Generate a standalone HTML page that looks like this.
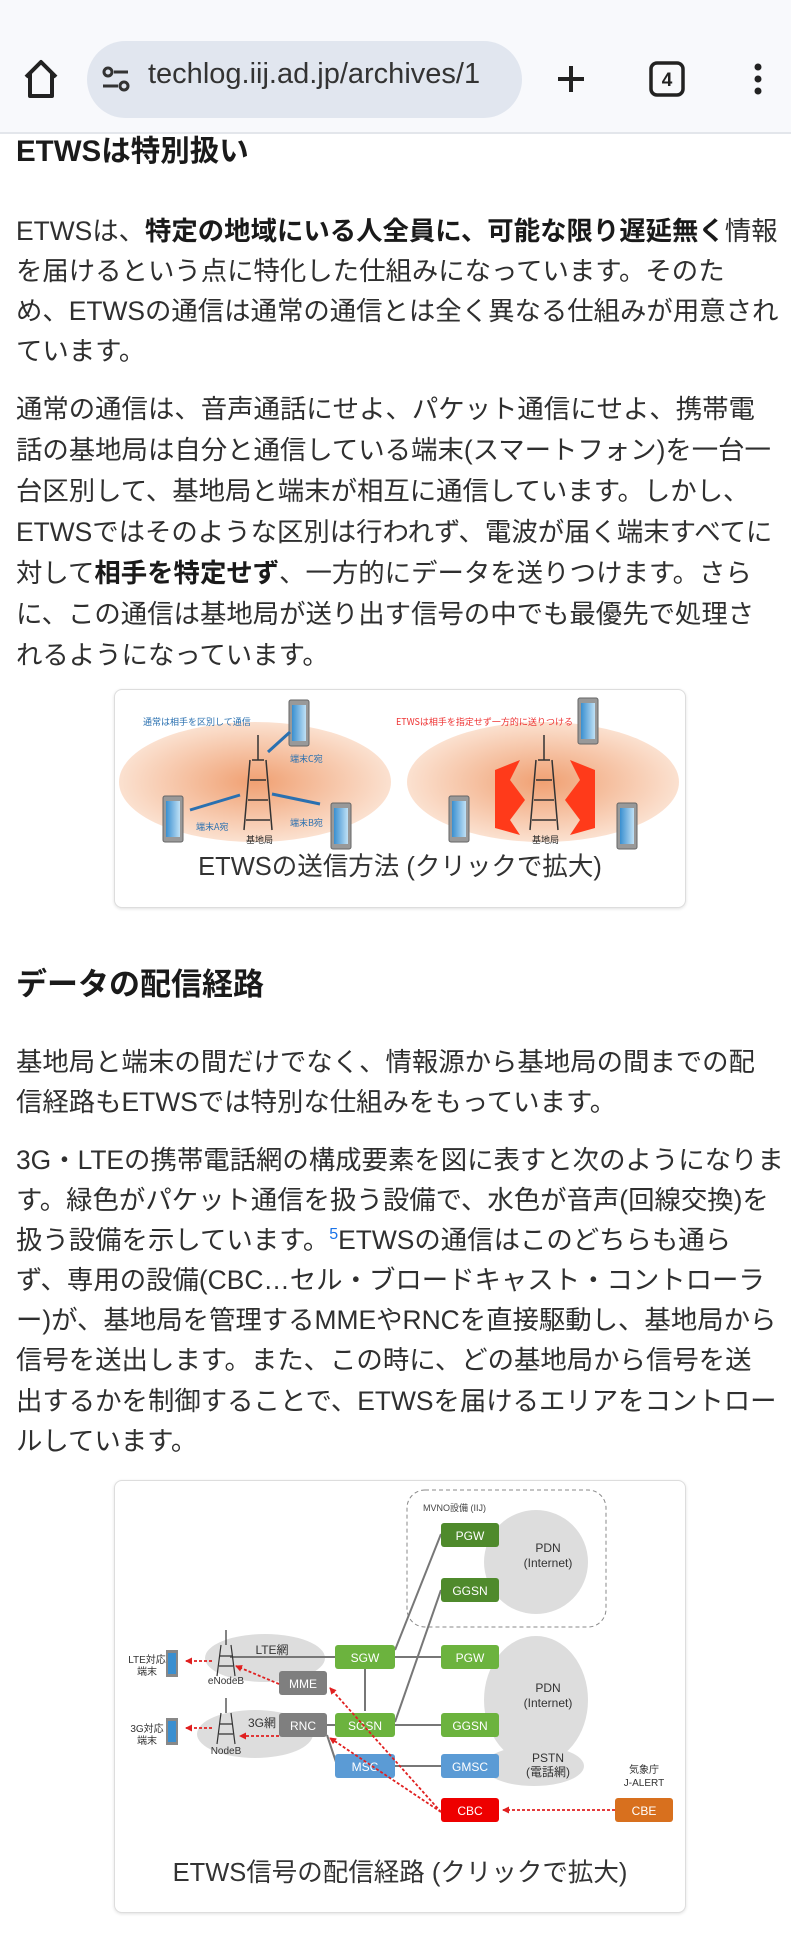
<!DOCTYPE html>
<html><head><meta charset="utf-8">
<style>
*{margin:0;padding:0;box-sizing:border-box}
html,body{width:791px;height:1947px;background:#fff;overflow:hidden;position:relative;font-family:"Liberation Sans","Noto Sans CJK JP",sans-serif;color:#222}
.l{position:absolute;left:16px;font-size:26.4px;line-height:40px;white-space:nowrap;color:#2f2f2f}
.l b{color:#1a1a1a}
.h{position:absolute;left:16px;font-weight:bold;white-space:nowrap;color:#1a1a1a}
.card{position:absolute;left:114px;width:572px;border:1px solid #ddd;border-radius:8px;box-shadow:0 1px 3px rgba(0,0,0,.12);background:#fff}
.cap{position:absolute;left:0;width:100%;text-align:center;font-size:25.5px;color:#333;white-space:nowrap}
sup{color:#1a73e8;font-size:16px;vertical-align:10px;line-height:0}
</style></head><body>
<div style="position:absolute;left:0;top:0;width:791px;height:134px;background:#f8f9fc;border-bottom:2px solid #e3e6eb"></div>
<div style="position:absolute;left:87px;top:41px;width:435px;height:77px;border-radius:39px;background:#e1e6ef"></div>
<div style="position:absolute;left:148px;top:58px;font-size:29px;color:#333;white-space:nowrap">techlog.iij.ad.jp/archives/1</div>
<svg style="position:absolute;left:0;top:0" width="791" height="134">
 <path d="M26 77 L41 62 L56 77 M30 73 V96 H52 V73" fill="none" stroke="#222" stroke-width="4" stroke-linejoin="round"/>
 <circle cx="108" cy="72" r="4" fill="none" stroke="#333" stroke-width="3"/><line x1="114" y1="72" x2="128" y2="72" stroke="#333" stroke-width="3"/>
 <circle cx="124" cy="86" r="4" fill="none" stroke="#333" stroke-width="3"/><line x1="103" y1="86" x2="118" y2="86" stroke="#333" stroke-width="3"/>
 <line x1="571" y1="66" x2="571" y2="92" stroke="#222" stroke-width="4"/><line x1="558" y1="79" x2="584" y2="79" stroke="#222" stroke-width="4"/>
 <rect x="651" y="63" width="32" height="32" rx="6" fill="none" stroke="#222" stroke-width="3.5"/>
 <text x="667" y="86" font-size="19" text-anchor="middle" font-family="Liberation Sans" font-weight="bold" fill="#222">4</text>
 <circle cx="758" cy="67" r="3.5" fill="#222"/><circle cx="758" cy="79" r="3.5" fill="#222"/><circle cx="758" cy="91" r="3.5" fill="#222"/>
</svg>

<div class="h" style="top:132px;font-size:29.5px;line-height:40px">ETWSは特別扱い</div>

<div class="l" style="top:211px">ETWSは、<b>特定の地域にいる人全員に、可能な限り遅延無く</b>情報</div>
<div class="l" style="top:251px">を届けるという点に特化した仕組みになっています。そのた</div>
<div class="l" style="top:291px">め、ETWSの通信は通常の通信とは全く異なる仕組みが用意され</div>
<div class="l" style="top:331px">ています。</div>

<div class="l" style="top:389px">通常の通信は、音声通話にせよ、パケット通信にせよ、携帯電</div>
<div class="l" style="top:430px">話の基地局は自分と通信している端末(スマートフォン)を一台一</div>
<div class="l" style="top:471px">台区別して、基地局と端末が相互に通信しています。しかし、</div>
<div class="l" style="top:512px">ETWSではそのような区別は行われず、電波が届く端末すべてに</div>
<div class="l" style="top:553px">対して<b>相手を特定せず</b>、一方的にデータを送りつけます。さら</div>
<div class="l" style="top:594px">に、この通信は基地局が送り出す信号の中でも最優先で処理さ</div>
<div class="l" style="top:635px">れるようになっています。</div>

<div class="card" style="top:689px;height:219px">
 <div class="cap" style="top:156px">ETWSの送信方法 (クリックで拡大)</div>
</div>
<svg style="position:absolute;left:0;top:680px" width="791" height="180">
 <defs><radialGradient id="og" cx="50%" cy="50%" r="50%"><stop offset="0" stop-color="#f0a072"/><stop offset="1" stop-color="#fbe1d0"/></radialGradient>
 <linearGradient id="ph" x1="0" x2="1"><stop offset="0" stop-color="#3a8fd0"/><stop offset="1" stop-color="#bfe0f5"/></linearGradient></defs>
 <ellipse cx="255" cy="102" rx="136" ry="60" fill="url(#og)"/>
 <ellipse cx="543" cy="102" rx="136" ry="60" fill="url(#og)"/>
 <g fill="#999" stroke="#666" stroke-width="1">
  <rect x="289" y="20" width="20" height="46" rx="2"/><rect x="163" y="116" width="20" height="46" rx="2"/><rect x="331" y="123" width="20" height="46" rx="2"/>
  <rect x="578" y="18" width="20" height="46" rx="2"/><rect x="449" y="116" width="20" height="46" rx="2"/><rect x="617" y="123" width="20" height="46" rx="2"/>
 </g>
 <g fill="url(#ph)">
  <rect x="292" y="25" width="14" height="36"/><rect x="166" y="121" width="14" height="36"/><rect x="334" y="128" width="14" height="36"/>
  <rect x="581" y="23" width="14" height="36"/><rect x="452" y="121" width="14" height="36"/><rect x="620" y="128" width="14" height="36"/>
 </g>
 <g stroke="#333" stroke-width="1.5" fill="none">
  <path d="M258 55 V80 M250 80 L244 150 M266 80 L272 150 M250 100 H266 M248 120 H268 M246 140 H270 M252 80 H264"/>
  <path d="M544 55 V80 M536 80 L530 150 M552 80 L558 150 M536 100 H552 M534 120 H554 M532 140 H556 M538 80 H550"/>
 </g>
 <g stroke="#2a70b0" stroke-width="3" fill="#2a70b0">
  <line x1="240" y1="115" x2="190" y2="130"/><line x1="272" y1="114" x2="320" y2="124"/><line x1="268" y1="72" x2="290" y2="52"/>
 </g>
 <path d="M495 90 L520 80 L510 100 L525 120 L510 140 L520 155 L495 148 Z M595 90 L570 80 L580 100 L565 120 L580 140 L570 155 L595 148 Z" fill="#ff3a1a"/>
 <text x="143" y="45" font-size="9" fill="#2a70b0" font-family="Noto Sans CJK JP">通常は相手を区別して通信</text>
 <text x="396" y="45" font-size="9" fill="#e33" font-family="Noto Sans CJK JP">ETWSは相手を指定せず一方的に送りつける</text>
 <g font-size="9" fill="#2a70b0" font-family="Noto Sans CJK JP"><text x="290" y="82">端末C宛</text><text x="196" y="150">端末A宛</text><text x="290" y="146">端末B宛</text></g>
 <g font-size="9" fill="#222" font-family="Noto Sans CJK JP"><text x="246" y="163">基地局</text><text x="532" y="163">基地局</text></g>
</svg>

<div class="h" style="top:964px;font-size:31px;line-height:42px">データの配信経路</div>

<div class="l" style="top:1042px">基地局と端末の間だけでなく、情報源から基地局の間までの配</div>
<div class="l" style="top:1082px">信経路もETWSでは特別な仕組みをもっています。</div>

<div class="l" style="top:1140px">3G・LTEの携帯電話網の構成要素を図に表すと次のようになりま</div>
<div class="l" style="top:1180px">す。緑色がパケット通信を扱う設備で、水色が音声(回線交換)を</div>
<div class="l" style="top:1220px">扱う設備を示しています。<sup>5</sup>ETWSの通信はこのどちらも通ら</div>
<div class="l" style="top:1260px">ず、専用の設備(CBC…セル・ブロードキャスト・コントローラ</div>
<div class="l" style="top:1300px">ー)が、基地局を管理するMMEやRNCを直接駆動し、基地局から</div>
<div class="l" style="top:1340px">信号を送出します。また、この時に、どの基地局から信号を送</div>
<div class="l" style="top:1381px">出するかを制御することで、ETWSを届けるエリアをコントロー</div>
<div class="l" style="top:1421px">ルしています。</div>

<div class="card" style="top:1480px;height:433px">
 <div class="cap" style="top:371px">ETWS信号の配信経路 (クリックで拡大)</div>
</div>
<svg style="position:absolute;left:0;top:0;pointer-events:none" width="791" height="1947" font-family="Liberation Sans, Noto Sans CJK JP, sans-serif">
 <defs><marker id="ar" markerUnits="userSpaceOnUse" markerWidth="7" markerHeight="7" refX="6" refY="3.5" orient="auto"><path d="M0 0 L7 3.5 L0 7 Z" fill="#e02020"/></marker></defs>
 <rect x="407" y="1490" width="199" height="137" rx="18" fill="none" stroke="#888" stroke-dasharray="4 3"/>
 <text x="423" y="1511" font-size="9" fill="#444">MVNO設備 (IIJ)</text>
 <ellipse cx="536" cy="1562" rx="52" ry="52" fill="#ddd"/>
 <ellipse cx="536" cy="1700" rx="52" ry="64" fill="#ddd"/>
 <ellipse cx="534" cy="1766" rx="50" ry="20" fill="#ddd"/>
 <ellipse cx="265" cy="1658" rx="60" ry="24" fill="#ddd"/>
 <ellipse cx="255" cy="1734" rx="58" ry="24" fill="#ddd"/>
 <g font-size="12" fill="#333" text-anchor="middle">
  <text x="548" y="1552">PDN</text><text x="548" y="1567">(Internet)</text>
  <text x="548" y="1692">PDN</text><text x="548" y="1707">(Internet)</text>
  <text x="548" y="1762">PSTN</text><text x="548" y="1776">(電話網)</text>
  <text x="272" y="1654">LTE網</text><text x="262" y="1727">3G網</text>
 </g>
 <g stroke="#777" stroke-width="2">
  <line x1="230" y1="1657" x2="335" y2="1657"/><line x1="395" y1="1657" x2="441" y2="1657"/>
  <line x1="395" y1="1650" x2="441" y2="1534"/><line x1="395" y1="1722" x2="441" y2="1590"/>
  <line x1="365" y1="1669" x2="365" y2="1711"/><line x1="327" y1="1725" x2="335" y2="1725"/>
  <line x1="395" y1="1725" x2="441" y2="1725"/><line x1="327" y1="1735" x2="337" y2="1765"/>
  <line x1="395" y1="1766" x2="441" y2="1766"/>
 </g>
 <g font-size="12" fill="#fff" text-anchor="middle">
  <rect x="441" y="1523" width="58" height="24" rx="3" fill="#4f8a2c"/><text x="470" y="1540">PGW</text>
  <rect x="441" y="1578" width="58" height="24" rx="3" fill="#4f8a2c"/><text x="470" y="1595">GGSN</text>
  <rect x="335" y="1645" width="60" height="24" rx="3" fill="#6cb33e"/><text x="365" y="1662">SGW</text>
  <rect x="441" y="1645" width="58" height="24" rx="3" fill="#6cb33e"/><text x="470" y="1662">PGW</text>
  <rect x="279" y="1671" width="48" height="24" rx="3" fill="#7f7f7f"/><text x="303" y="1688">MME</text>
  <rect x="279" y="1713" width="48" height="24" rx="3" fill="#7f7f7f"/><text x="303" y="1730">RNC</text>
  <rect x="335" y="1713" width="60" height="24" rx="3" fill="#6cb33e"/><text x="365" y="1730">SGSN</text>
  <rect x="441" y="1713" width="58" height="24" rx="3" fill="#6cb33e"/><text x="470" y="1730">GGSN</text>
  <rect x="335" y="1754" width="60" height="24" rx="3" fill="#5b9bd5"/><text x="365" y="1771">MSC</text>
  <rect x="441" y="1754" width="58" height="24" rx="3" fill="#5b9bd5"/><text x="470" y="1771">GMSC</text>
  <rect x="441" y="1798" width="58" height="24" rx="3" fill="#ee0000"/><text x="470" y="1815">CBC</text>
  <rect x="615" y="1798" width="58" height="24" rx="3" fill="#d8701e"/><text x="644" y="1815">CBE</text>
 </g>
 <g font-size="10" fill="#333" text-anchor="middle">
  <text x="644" y="1773">気象庁</text><text x="644" y="1786">J-ALERT</text>
  <text x="147" y="1663">LTE対応</text><text x="147" y="1675">端末</text>
  <text x="147" y="1732">3G対応</text><text x="147" y="1744">端末</text>
  <text x="226" y="1684">eNodeB</text><text x="226" y="1754">NodeB</text>
 </g>
 <g stroke="#333" stroke-width="1.2" fill="none">
  <path d="M226 1630 V1645 M221 1645 L217 1676 M231 1645 L235 1676 M220 1656 H232 M219 1666 H233"/>
  <path d="M226 1698 V1713 M221 1713 L217 1744 M231 1713 L235 1744 M220 1724 H232 M219 1734 H233"/>
 </g>
 <rect x="166" y="1650" width="12" height="27" fill="#888"/><rect x="168" y="1653" width="8" height="21" fill="#3a8fd0"/>
 <rect x="166" y="1718" width="12" height="27" fill="#888"/><rect x="168" y="1721" width="8" height="21" fill="#3a8fd0"/>
 <g stroke="#e02020" stroke-width="1.8" stroke-dasharray="3 2" fill="none" marker-end="url(#ar)">
  <line x1="212" y1="1661" x2="186" y2="1661"/><line x1="212" y1="1728" x2="186" y2="1728"/>
  <line x1="279" y1="1684" x2="236" y2="1666"/><line x1="279" y1="1736" x2="240" y2="1736"/>
  <line x1="441" y1="1812" x2="330" y2="1688"/><line x1="441" y1="1812" x2="330" y2="1738"/>
  <line x1="615" y1="1810" x2="503" y2="1810"/>
 </g>
</svg>
</body></html>
